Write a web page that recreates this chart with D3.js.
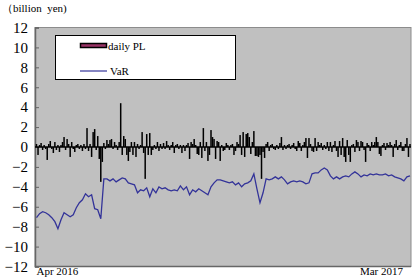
<!DOCTYPE html>
<html>
<head>
<meta charset="utf-8">
<script src="https://cdn.jsdelivr.net/npm/d3@7"></script>
<style>
  body { margin: 0; background: #fff; }
  svg { display: block; }
  text { font-family: "Liberation Serif", "DejaVu Serif", serif; fill: #000; }
</style>
</head>
<body>
<div id="chart"></div>
<script>
// daily profit and loss, one value per business day (billion yen)
var dailyPL = [
  0.3, -0.8, 0.2, 0.4, -0.3, 0.2, -0.2, -1.3, 0.3, 0.6,
  -0.2, -0.6, 0.5, -0.3, 0.2, -0.5, 0.2, 0.5, 1.0, -0.3,
  0.8, 0.3, -1.0, 0.5, -0.2, -0.5, 0.2, 0.3, -0.2, 0.2,
  -0.4, 0.3, -0.2, 1.9, -0.4, 0.3, -1.0, 1.5, 1.8, -0.3,
  1.1, -1.2, -3.5, -1.5, 0.4, -0.2, 0.7, 0.3, 0.7, 0.8,
  -0.2, 0.5, 0.2, -0.3, 0.5, 4.4, -0.8, 1.1, 0.8, -0.8,
  -1.4, -0.5, 0.5, -0.8, 0.5, -1.0, 0.3, -0.2, 0.2, 1.5,
  -0.6, -3.2, 1.3, -0.8, 1.4, -0.8, -0.3, 0.2, -0.2, 0.5,
  -0.4, 0.3, -0.2, 0.4, -0.2, 0.6, 0.2, -0.3, 0.2, 0.5,
  -0.6, 0.2, 0.3, -0.2, 0.2, -0.6, 0.2, -0.4, 0.2, 0.4,
  -1.2, 0.5, 0.3, 0.8, 0.2, -0.7, -0.8, 0.5, -1.1, 1.9,
  -0.4, 0.5, -1.4, -0.8, 1.7, 1.0, 0.8, -1.2, 0.6, 0.5,
  -1.4, 0.2, -0.4, -0.3, 0.4, 0.2, -0.3, 0.2, 0.3, -0.8,
  -0.4, 0.5, 0.3, 1.2, -0.8, 1.5, -1.0, 1.3, 1.4, 1.0,
  -0.7, 0.5, 1.6, -0.9, -0.9, -1.0, -0.8, -3.2, -0.5, -1.1,
  0.3, 0.5, -0.4, 0.2, 0.3, -0.2, -0.3, 0.2, -0.2, 0.4,
  1.0, -0.3, 0.2, -0.2, 0.2, 0.3, -0.2, 0.2, 0.4, -0.2,
  -0.4, 0.6, 0.4, -0.4, 0.2, 0.5, 0.9, -1.1, 0.9, 0.3,
  -0.4, -0.5, 0.9, -0.4, 0.5, 0.2, 0.4, -0.3, 0.2, -0.2,
  0.5, -0.4, 0.5, -0.5, 0.2, 0.6, -0.4, -1.0, 0.6, -0.8,
  0.9, -1.0, -1.5, 0.7, -0.8, -1.5, 0.2, 0.3, -0.5, 0.7,
  0.5, -0.4, 0.6, 0.5, -0.3, -1.5, 0.4, 0.2, -0.4, 0.5,
  0.2, 0.5, 1.0, 0.5, -0.7, -0.9, 0.2, 0.4, -0.3, 0.4,
  0.2, 0.5, 0.2, -1.0, 0.3, 0.7, -0.3, 0.2, 0.5, -0.4,
  -0.4, 0.3, 0.9, -1.0, 0.3
];

// VaR, one reading every second business day (billion yen)
var varValues = [
  -7.1, -6.7, -6.5, -6.6, -6.8, -7.1, -7.5, -8.2, -7.3, -6.6,
  -6.8, -7.0, -6.8, -6.1, -5.6, -5.3, -4.7, -5.0, -4.8, -6.2,
  -6.3, -7.2, -3.2, -3.2, -3.4, -3.2, -3.5, -3.3, -3.1, -3.2,
  -3.6, -3.7, -3.8, -4.6, -4.3, -4.4, -4.1, -5.0, -4.2, -4.6,
  -4.0, -4.2, -4.1, -4.3, -4.4, -4.3, -4.4, -3.9, -4.3, -4.0,
  -4.8, -4.3, -4.5, -4.2, -4.4, -4.6, -4.8, -4.0, -3.6, -3.3,
  -3.3, -3.4, -3.5, -3.6, -3.5, -3.8, -3.6, -4.0, -3.7, -3.6,
  -3.4, -2.7, -4.2, -5.6, -4.6, -3.2, -3.3, -3.2, -3.0, -3.2,
  -3.0, -3.3, -3.7, -3.5, -3.4, -3.5, -3.4, -3.5, -3.7, -3.6,
  -2.7, -2.6, -2.6, -2.3, -2.1, -2.3, -2.9, -3.2, -3.0, -3.2,
  -3.0, -2.9, -3.0, -2.7, -2.5, -2.7, -3.0, -2.8, -2.9, -2.7,
  -2.8, -2.7, -2.8, -2.8, -2.7, -2.9, -2.8, -3.0, -3.1, -3.2,
  -3.4, -3.0, -2.9
];

var yTicks = [12, 10, 8, 6, 4, 2, 0, -2, -4, -6, -8, -10, -12];
var xLabels = ["Apr 2016", "Mar 2017"];
var seriesNames = ["daily PL", "VaR"];
var unitLabel = "\uFF08billion  yen)";

var serif = "Liberation Serif, DejaVu Serif, serif";
var width = 413, height = 277;
var plot = { left: 35, right: 411, top: 27.5, bottom: 266.5 };

var svg = d3.select("#chart")
  .append("svg")
  .attr("width", width)
  .attr("height", height);

var x = d3.scaleLinear()
  .domain([0, dailyPL.length - 1])
  .range([36.5, 410]);

var y = d3.scaleLinear()
  .domain([-12, 12])
  .range([plot.bottom, plot.top]);

// plot background
svg.append("rect")
  .attr("x", plot.left)
  .attr("y", plot.top)
  .attr("width", plot.right - plot.left)
  .attr("height", plot.bottom - plot.top)
  .attr("fill", "#c0c0c0")
  .attr("stroke", "#8c8c8c")
  .attr("stroke-width", 1);

// y axis, ticks pointing inward
var yAxis = d3.axisLeft(y)
  .tickValues(yTicks)
  .tickSize(-4)
  .tickPadding(8)
  .tickFormat(d3.format("d"));

var gy = svg.append("g")
  .attr("transform", "translate(" + plot.left + ",0)")
  .call(yAxis)
  .attr("font-family", serif)
  .attr("font-size", 15);
gy.select(".domain").attr("stroke", "#666").attr("stroke-width", 1.5);
gy.selectAll(".tick line").attr("stroke", "#666");
gy.selectAll(".tick text")
  .attr("x", -7)
  .style("font-family", serif)
  .style("font-size", "15px");

// bottom axis line
svg.append("line")
  .attr("x1", plot.left).attr("x2", plot.right)
  .attr("y1", plot.bottom).attr("y2", plot.bottom)
  .attr("stroke", "#666")
  .attr("stroke-width", 1.5);

// zero line
svg.append("line")
  .attr("x1", plot.left).attr("x2", plot.right)
  .attr("y1", y(0)).attr("y2", y(0))
  .attr("stroke", "#000")
  .attr("stroke-width", 1.5);

// daily PL bars
svg.append("g")
  .selectAll("rect")
  .data(dailyPL)
  .enter()
  .append("rect")
  .attr("x", function (d, i) { return x(i) - 0.75; })
  .attr("y", function (d) { return Math.min(y(d), y(0)); })
  .attr("width", 1.5)
  .attr("height", function (d) { return Math.abs(y(d) - y(0)); })
  .attr("fill", "#000");

// VaR line
var line = d3.line()
  .x(function (d, i) { return x(i * 2); })
  .y(function (d) { return y(d); });

svg.append("path")
  .datum(varValues)
  .attr("d", line)
  .attr("fill", "none")
  .attr("stroke", "#333399")
  .attr("stroke-width", 1.3);

// x labels
svg.append("text")
  .attr("x", x(0))
  .attr("y", 275)
  .style("font-size", "11px")
  .text(xLabels[0]);

svg.append("text")
  .attr("x", x(dailyPL.length - 1) - 7)
  .attr("y", 275)
  .attr("text-anchor", "end")
  .style("font-size", "11px")
  .text(xLabels[1]);

// unit label
svg.append("text")
  .attr("x", 2)
  .attr("y", 12)
  .style("font-size", "11px")
  .style("white-space", "pre")
  .text(unitLabel);

// legend
var legend = svg.append("g");
legend.append("rect")
  .attr("x", 55.5)
  .attr("y", 35.5)
  .attr("width", 180)
  .attr("height", 44)
  .attr("fill", "#fff")
  .attr("stroke", "#000")
  .attr("stroke-width", 1);

legend.append("rect")
  .attr("x", 80.5)
  .attr("y", 43.5)
  .attr("width", 26)
  .attr("height", 4)
  .attr("fill", "#993366")
  .attr("stroke", "#000")
  .attr("stroke-width", 1.5);

legend.append("text")
  .attr("x", 108)
  .attr("y", 50)
  .style("font-size", "11px")
  .text(seriesNames[0]);

legend.append("line")
  .attr("x1", 80).attr("x2", 107)
  .attr("y1", 71).attr("y2", 71)
  .attr("stroke", "#333399")
  .attr("stroke-width", 1.2);

legend.append("text")
  .attr("x", 110)
  .attr("y", 75)
  .style("font-size", "11px")
  .text(seriesNames[1]);
</script>
</body>
</html>
